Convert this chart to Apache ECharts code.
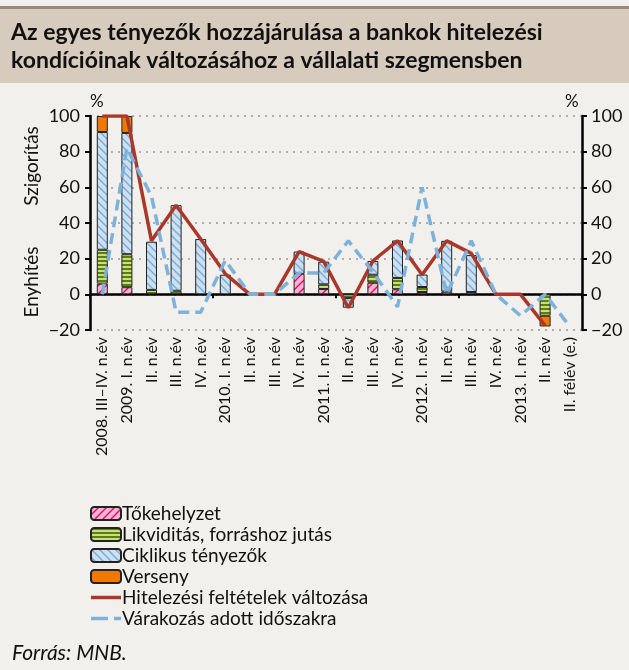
<!DOCTYPE html>
<html>
<head>
<meta charset="utf-8">
<script src="https://cdn.jsdelivr.net/npm/echarts@6/dist/echarts.min.js"></script>
<style>
  html, body { margin: 0; padding: 0; background: #f2f0ed; }
  #chart { width: 629px; height: 670px; }
</style>
</head>
<body>
<div id="chart"></div>
<script>
  // kategóriák (negyedévek)
  const categories = ['2008. III–IV. n.év', '2009. I. n.év', 'II. n.év', 'III. n.év', 'IV. n.év',
    '2010. I. n.év', 'II. n.év', 'III. n.év', 'IV. n.év', '2011. I. n.év', 'II. n.év', 'III. n.év',
    'IV. n.év', '2012. I. n.év', 'II. n.év', 'III. n.év', 'IV. n.év', '2013. I. n.év', 'II. n.év',
    'II. félév (e.)']
  const tokehelyzet = [6, 4, null, null, null, null, null, null, 11.5, 3, null, 6.5, 2.8, 1.3, 1.5, 1.3, null, null, null, null]
  const likviditas = [19, 18.5, 2.5, 2, null, null, null, null, null, 2.6, -2, 4.5, 6.4, 2.8, null, null, null, null, -12, null]
  const ciklikus = [66, 68, 27, 48, 31, 11, null, null, 12.5, 12.7, -5.5, 7.7, 21, 7, 28.5, 20.7, null, null, null, null]
  const verseny = [9, 9.5, null, null, null, null, null, null, null, null, null, null, null, null, null, null, null, null, -6, null]
  const hitelezesi = [100, 100, 30, 50, 31, 11.5, 0, 0, 24, 18.5, -7.5, 18.7, 30, 11, 30, 23, 0, 0, -17.5, null]
  const varakozas = [0, 82, 55, -10, -10, 19, 0, 0, 12, 12, 30, 12.5, -7, 60, 0, 30, 0, -12, 0, -18]

  const FONT = 'Lato'

  // mintázott kitöltés canvasból
  function pattern (bg, fg, kind) {
    let c = document.createElement('canvas')
    c.width = 8
    c.height = 8
    let ctx = c.getContext('2d')
    ctx.fillStyle = bg
    ctx.fillRect(0, 0, 8, 8)
    ctx.strokeStyle = fg
    ctx.lineWidth = 1.3
    ctx.beginPath()
    if (kind === 'up') {
      ctx.moveTo(-2, 10); ctx.lineTo(10, -2)
      ctx.moveTo(-2, 2); ctx.lineTo(2, -2)
      ctx.moveTo(6, 10); ctx.lineTo(10, 6)
    } else if (kind === 'down') {
      ctx.moveTo(-2, -2); ctx.lineTo(10, 10)
      ctx.moveTo(-2, 6); ctx.lineTo(2, 10)
      ctx.moveTo(6, -2); ctx.lineTo(10, 2)
    } else {
      ctx.lineWidth = 2
      ctx.moveTo(0, 1); ctx.lineTo(8, 1)
      ctx.moveTo(0, 5); ctx.lineTo(8, 5)
    }
    ctx.stroke()
    return {image: c, repeat: 'repeat'}
  }

  const chart = echarts.init(document.getElementById('chart'), null, {renderer: 'canvas'})

  const barBase = {
    type: 'bar',
    stack: 'f',
    barWidth: 11,
    xAxisIndex: 0,
    yAxisIndex: 0
  }
  const fmt = v => v < 0 ? '−' + Math.abs(v) : v

  chart.setOption({
    backgroundColor: '#f2f0ed',
    animation: false,
    textStyle: {fontFamily: FONT},
    grid: {left: 90, right: 47, top: 116, bottom: 340},
    graphic: [
      {type: 'rect', shape: {x: 0, y: 6, width: 629, height: 3}, style: {fill: '#9c8a76'}},
      {type: 'rect', shape: {x: 0, y: 9, width: 629, height: 74}, style: {fill: '#d6cbbd'}},
      {type: 'text', left: 11, top: 19, style: {text: 'Az egyes tényezők hozzájárulása a bankok hitelezési\nkondícióinak változásához a vállalati szegmensben',
        font: 'bold 23px ' + FONT, fill: '#111', lineHeight: 28}},
      {type: 'text', left: 90, top: 93, style: {text: '%', font: '17px ' + FONT, fill: '#111'}},
      {type: 'text', left: 565, top: 93, style: {text: '%', font: '17px ' + FONT, fill: '#111'}},
      {type: 'text', x: 22, y: 166, rotation: Math.PI / 2, style: {text: 'Szigorítás', font: '19px ' + FONT, fill: '#111', align: 'center', verticalAlign: 'top'}},
      {type: 'text', x: 22, y: 282, rotation: Math.PI / 2, style: {text: 'Enyhítés', font: '19px ' + FONT, fill: '#111', align: 'center', verticalAlign: 'top'}},
      {type: 'text', left: 12, top: 643, style: {text: 'Forrás: MNB.', font: 'italic 21px ' + FONT, fill: '#111'}}
    ],
    legend: {
      orient: 'vertical',
      left: 90,
      top: 504,
      padding: 0,
      itemWidth: 30,
      itemHeight: 13,
      itemGap: 2,
      textStyle: {fontSize: 19, color: '#111', fontFamily: FONT, padding: [0, 0, 0, -4]},
      data: ['Tőkehelyzet', 'Likviditás, forráshoz jutás', 'Ciklikus tényezők', 'Verseny',
        {name: 'Hitelezési feltételek változása', icon: 'path://M0,0L30,0L30,3.5L0,3.5Z',
          itemStyle: {color: '#a9382b'}},
        {name: 'Várakozás adott időszakra', icon: 'path://M0,0L17,0L17,3.5L0,3.5ZM23,0L30,0L30,3.5L23,3.5Z',
          itemStyle: {color: '#7db2db'}}]
    },
    xAxis: [
      {
        type: 'category',
        data: categories,
        position: 'bottom',
        axisLine: {onZero: true, lineStyle: {color: '#000', width: 2.5}},
        axisTick: {show: true, length: 4, lineStyle: {color: '#000', width: 2}},
        axisLabel: {show: false}
      },
      {
        type: 'category',
        data: categories,
        position: 'bottom',
        axisLine: {show: false, onZero: false},
        axisTick: {show: false},
        axisLabel: {rotate: 90, fontSize: 16, color: '#111', margin: 7, fontFamily: FONT, interval: 0}
      }
    ],
    yAxis: [
      {
        type: 'value', min: -20, max: 100, interval: 20, position: 'left',
        axisLine: {show: true, lineStyle: {color: '#000', width: 2.5}},
        axisTick: {show: true, length: 5, lineStyle: {color: '#000', width: 2}},
        axisLabel: {fontSize: 18, color: '#111', margin: 10, fontFamily: FONT, formatter: fmt},
        splitLine: {lineStyle: {color: '#999', type: [2, 5], width: 1.5}}
      },
      {
        type: 'value', min: -20, max: 100, interval: 20, position: 'right',
        axisLine: {show: true, lineStyle: {color: '#000', width: 2.5}},
        axisTick: {show: true, length: 5, lineStyle: {color: '#000', width: 2}},
        axisLabel: {fontSize: 18, color: '#111', margin: 9, fontFamily: FONT, formatter: fmt},
        splitLine: {show: false}
      }
    ],
    series: [
      Object.assign({}, barBase, {name: 'Tőkehelyzet', data: tokehelyzet,
        itemStyle: {color: pattern('#f5b5cd', '#e2007a', 'up'), borderColor: '#222', borderWidth: 1}}),
      Object.assign({}, barBase, {name: 'Likviditás, forráshoz jutás', data: likviditas,
        itemStyle: {color: pattern('#c8dc8e', '#5f7f00', 'h'), borderColor: '#222', borderWidth: 1}}),
      Object.assign({}, barBase, {name: 'Ciklikus tényezők', data: ciklikus,
        itemStyle: {color: pattern('#cce0f1', '#74a9d6', 'down'), borderColor: '#222', borderWidth: 1}}),
      Object.assign({}, barBase, {name: 'Verseny', data: verseny,
        itemStyle: {color: '#f07800', borderColor: '#222', borderWidth: 1}}),
      {
        name: 'Hitelezési feltételek változása', type: 'line', data: hitelezesi, symbol: 'none', z: 5,
        lineStyle: {color: '#a9382b', width: 3.5}, itemStyle: {color: '#a9382b'}
      },
      {
        name: 'Várakozás adott időszakra', type: 'line', data: varakozas, symbol: 'none', z: 6,
        lineStyle: {color: '#7db2db', width: 3.5, type: [11, 6]}, itemStyle: {color: '#7db2db'}
      }
    ]
  })
</script>
</body>
</html>
